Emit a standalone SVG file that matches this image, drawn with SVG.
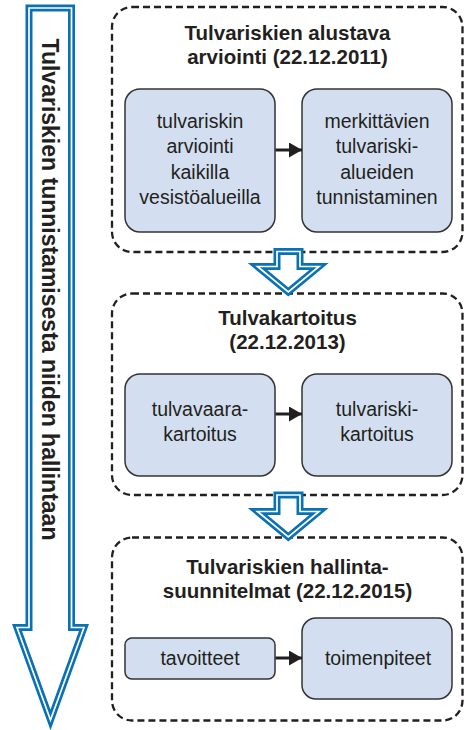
<svg xmlns="http://www.w3.org/2000/svg" width="464" height="730" viewBox="0 0 464 730">
  <style>
    .container { fill: none; stroke: #231f20; stroke-width: 2.3; stroke-dasharray: 7 4; }
    .box { fill: #d3dff0; stroke: #333333; stroke-width: 1.5; }
    .title { font-family: "Liberation Sans", Arial, sans-serif; font-weight: bold; font-size: 20.5px; fill: #231f20; text-anchor: middle; }
    .label { font-family: "Liberation Sans", Arial, sans-serif; font-size: 19.5px; fill: #231f20; text-anchor: middle; }
    .vert { font-family: "Liberation Sans", Arial, sans-serif; font-weight: bold; font-size: 23px; fill: #231f20; text-anchor: middle; }
    .blueOuter { fill: #ffffff; stroke: #0a71b4; stroke-width: 7; stroke-linejoin: miter; stroke-miterlimit: 10; }
    .blueInner { fill: none; stroke: #ffffff; stroke-width: 1.7; stroke-linejoin: miter; stroke-miterlimit: 10; }
    .conn { stroke: #231f20; stroke-width: 3; fill: none; }
  </style>
  <defs>
    <marker id="ah" markerUnits="userSpaceOnUse" markerWidth="13" markerHeight="15" viewBox="0 0 13 15" refX="13" refY="7.5" orient="auto">
      <path d="M0,0 L13,7.5 L0,15 Z" fill="#231f20"/>
    </marker>
  </defs>

  <!-- Big vertical arrow -->
  <g id="process-arrow">
    <path class="blueOuter" d="M29,8 L29,627.5 L17,627.5 L50.5,720 L84,627.5 L71.5,627.5 L71.5,8 Z"/>
    <path class="blueInner" d="M29,8 L29,627.5 L17,627.5 L50.5,720 L84,627.5 L71.5,627.5 L71.5,8 Z"/>
    <text class="vert" transform="translate(42,289.5) rotate(90)">Tulvariskien tunnistamisesta niiden hallintaan</text>
  </g>

  <!-- Stage 1 -->
  <g id="stage1">
    <rect class="container" x="112" y="7" width="350.5" height="245" rx="20" ry="20"/>
    <text class="title" x="287.5" y="40">Tulvariskien alustava</text>
    <text class="title" x="287.5" y="64">arviointi (22.12.2011)</text>
  </g>
  <g id="box-arviointi">
    <rect class="box" x="125" y="89" width="150" height="143" rx="15" ry="15"/>
    <text class="label" x="200" y="128">tulvariskin</text>
    <text class="label" x="200" y="153.3">arviointi</text>
    <text class="label" x="200" y="178.6">kaikilla</text>
    <text class="label" x="200" y="203.9">vesistöalueilla</text>
  </g>
  <g id="box-tunnistaminen">
    <rect class="box" x="302" y="89" width="150" height="143" rx="15" ry="15"/>
    <text class="label" x="377" y="128">merkittävien</text>
    <text class="label" x="377" y="153.3">tulvariski-</text>
    <text class="label" x="377" y="178.6">alueiden</text>
    <text class="label" x="377" y="203.9">tunnistaminen</text>
  </g>

  <!-- Stage 2 -->
  <g id="stage2">
    <rect class="container" x="112" y="293.5" width="350.5" height="201.5" rx="20" ry="20"/>
    <text class="title" x="287.5" y="324.5">Tulvakartoitus</text>
    <text class="title" x="287.5" y="349">(22.12.2013)</text>
  </g>
  <g id="box-tulvavaara">
    <rect class="box" x="125" y="374" width="150" height="102" rx="15" ry="15"/>
    <text class="label" x="200" y="416">tulvavaara-</text>
    <text class="label" x="200" y="441">kartoitus</text>
  </g>
  <g id="box-tulvariski">
    <rect class="box" x="302" y="374" width="150" height="102" rx="15" ry="15"/>
    <text class="label" x="377" y="416">tulvariski-</text>
    <text class="label" x="377" y="441">kartoitus</text>
  </g>

  <!-- Stage 3 -->
  <g id="stage3">
    <rect class="container" x="112" y="537.5" width="350.5" height="183" rx="20" ry="20"/>
    <text class="title" x="287.5" y="573.5">Tulvariskien hallinta-</text>
    <text class="title" x="287.5" y="597.5">suunnitelmat (22.12.2015)</text>
  </g>
  <g id="box-tavoitteet">
    <rect class="box" x="125" y="638" width="150" height="41" rx="7" ry="7"/>
    <text class="label" x="200" y="665">tavoitteet</text>
  </g>
  <g id="box-toimenpiteet">
    <rect class="box" x="302" y="618" width="150" height="81" rx="14" ry="14"/>
    <text class="label" x="378" y="665">toimenpiteet</text>
  </g>

  <!-- Connectors -->
  <g id="connectors">
    <line class="conn" x1="275.5" y1="150" x2="302" y2="150" marker-end="url(#ah)"/>
    <line class="conn" x1="275.5" y1="414" x2="302" y2="414" marker-end="url(#ah)"/>
    <line class="conn" x1="275.5" y1="658" x2="302" y2="658" marker-end="url(#ah)"/>
    <g id="stage-arrow-1">
      <path class="blueOuter" d="M277,251.5 L277,266.5 L257.5,266.5 L288.3,292 L319,266.5 L300,266.5 L300,251.5 Z"/>
      <path class="blueInner" d="M277,251.5 L277,266.5 L257.5,266.5 L288.3,292 L319,266.5 L300,266.5 L300,251.5 Z"/>
    </g>
    <g id="stage-arrow-2">
      <path class="blueOuter" d="M277,495 L277,511.5 L257.5,511.5 L288.3,537 L319,511.5 L300,511.5 L300,495 Z"/>
      <path class="blueInner" d="M277,495 L277,511.5 L257.5,511.5 L288.3,537 L319,511.5 L300,511.5 L300,495 Z"/>
    </g>
  </g>
</svg>
